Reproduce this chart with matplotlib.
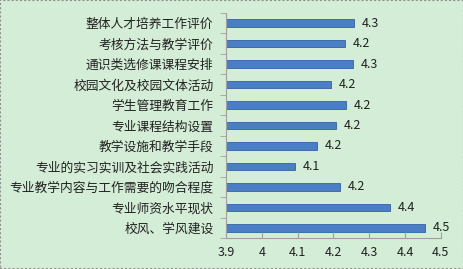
import matplotlib
matplotlib.use("Agg")
import matplotlib.pyplot as plt
from matplotlib.patches import Rectangle
import numpy as np

plt.rcParams['font.family'] = ['Noto Sans CJK SC', 'DejaVu Sans']

categories = ["整体人才培养工作评价", "考核方法与教学评价", "通识类选修课课程安排",
              "校园文化及校园文体活动", "学生管理教育工作", "专业课程结构设置",
              "教学设施和教学手段", "专业的实习实训及社会实践活动",
              "专业教学内容与工作需要的吻合程度", "专业师资水平现状", "校风、学风建设"]
values = [4.258, 4.232, 4.254, 4.193, 4.236, 4.208, 4.154, 4.093, 4.218, 4.358, 4.456]
xticks = [3.9, 4.0, 4.1, 4.2, 4.3, 4.4, 4.5]
xticklabels = ["3.9", "4", "4.1", "4.2", "4.3", "4.4", "4.5"]

bg = '#d3edd6'
fig = plt.figure(figsize=(4.64, 2.69), dpi=100, facecolor=bg)
ax = fig.add_axes([0.487, 0.115, 0.463, 0.837])
ax.set_facecolor(bg)

n = len(categories)
y = np.arange(n)[::-1]
ax.barh(y, [v - 3.9 for v in values], left=3.9, height=0.36,
        color='#4a7fc6', edgecolor='#3462a6', linewidth=0.6)
for yi, v in zip(y, values):
    ax.text(v + 0.022, yi, f"{v:.1f}", va='center', ha='left', fontsize=9, color='#222222')

ax.set_xlim(3.9, 4.5)
ax.set_ylim(-0.5, n - 0.5)
ax.set_xticks(xticks)
ax.set_xticklabels(xticklabels, fontsize=9, color='#222222')
ax.set_yticks(y)
ax.set_yticklabels(categories, fontsize=9.2, color='#222222')
ax.set_yticks(np.arange(-0.5, n, 1.0), minor=True)
ax.tick_params(axis='y', which='major', length=0, pad=9)
ax.tick_params(axis='y', which='minor', length=4, color='#a0a0a0', direction='out')
ax.tick_params(axis='x', which='major', length=4, color='#a0a0a0', direction='in', pad=6)

for s in ['top', 'right']:
    ax.spines[s].set_visible(False)
for s in ['left', 'bottom']:
    ax.spines[s].set_color('#a0a0a0')
    ax.spines[s].set_linewidth(0.8)

fig.patches.append(Rectangle((0, 0), 1, 1, transform=fig.transFigure, fill=False,
                             edgecolor='#909090', linewidth=1.5, linestyle=(0, (1, 1))))

fig.savefig("out.png", dpi=100, facecolor=bg)
